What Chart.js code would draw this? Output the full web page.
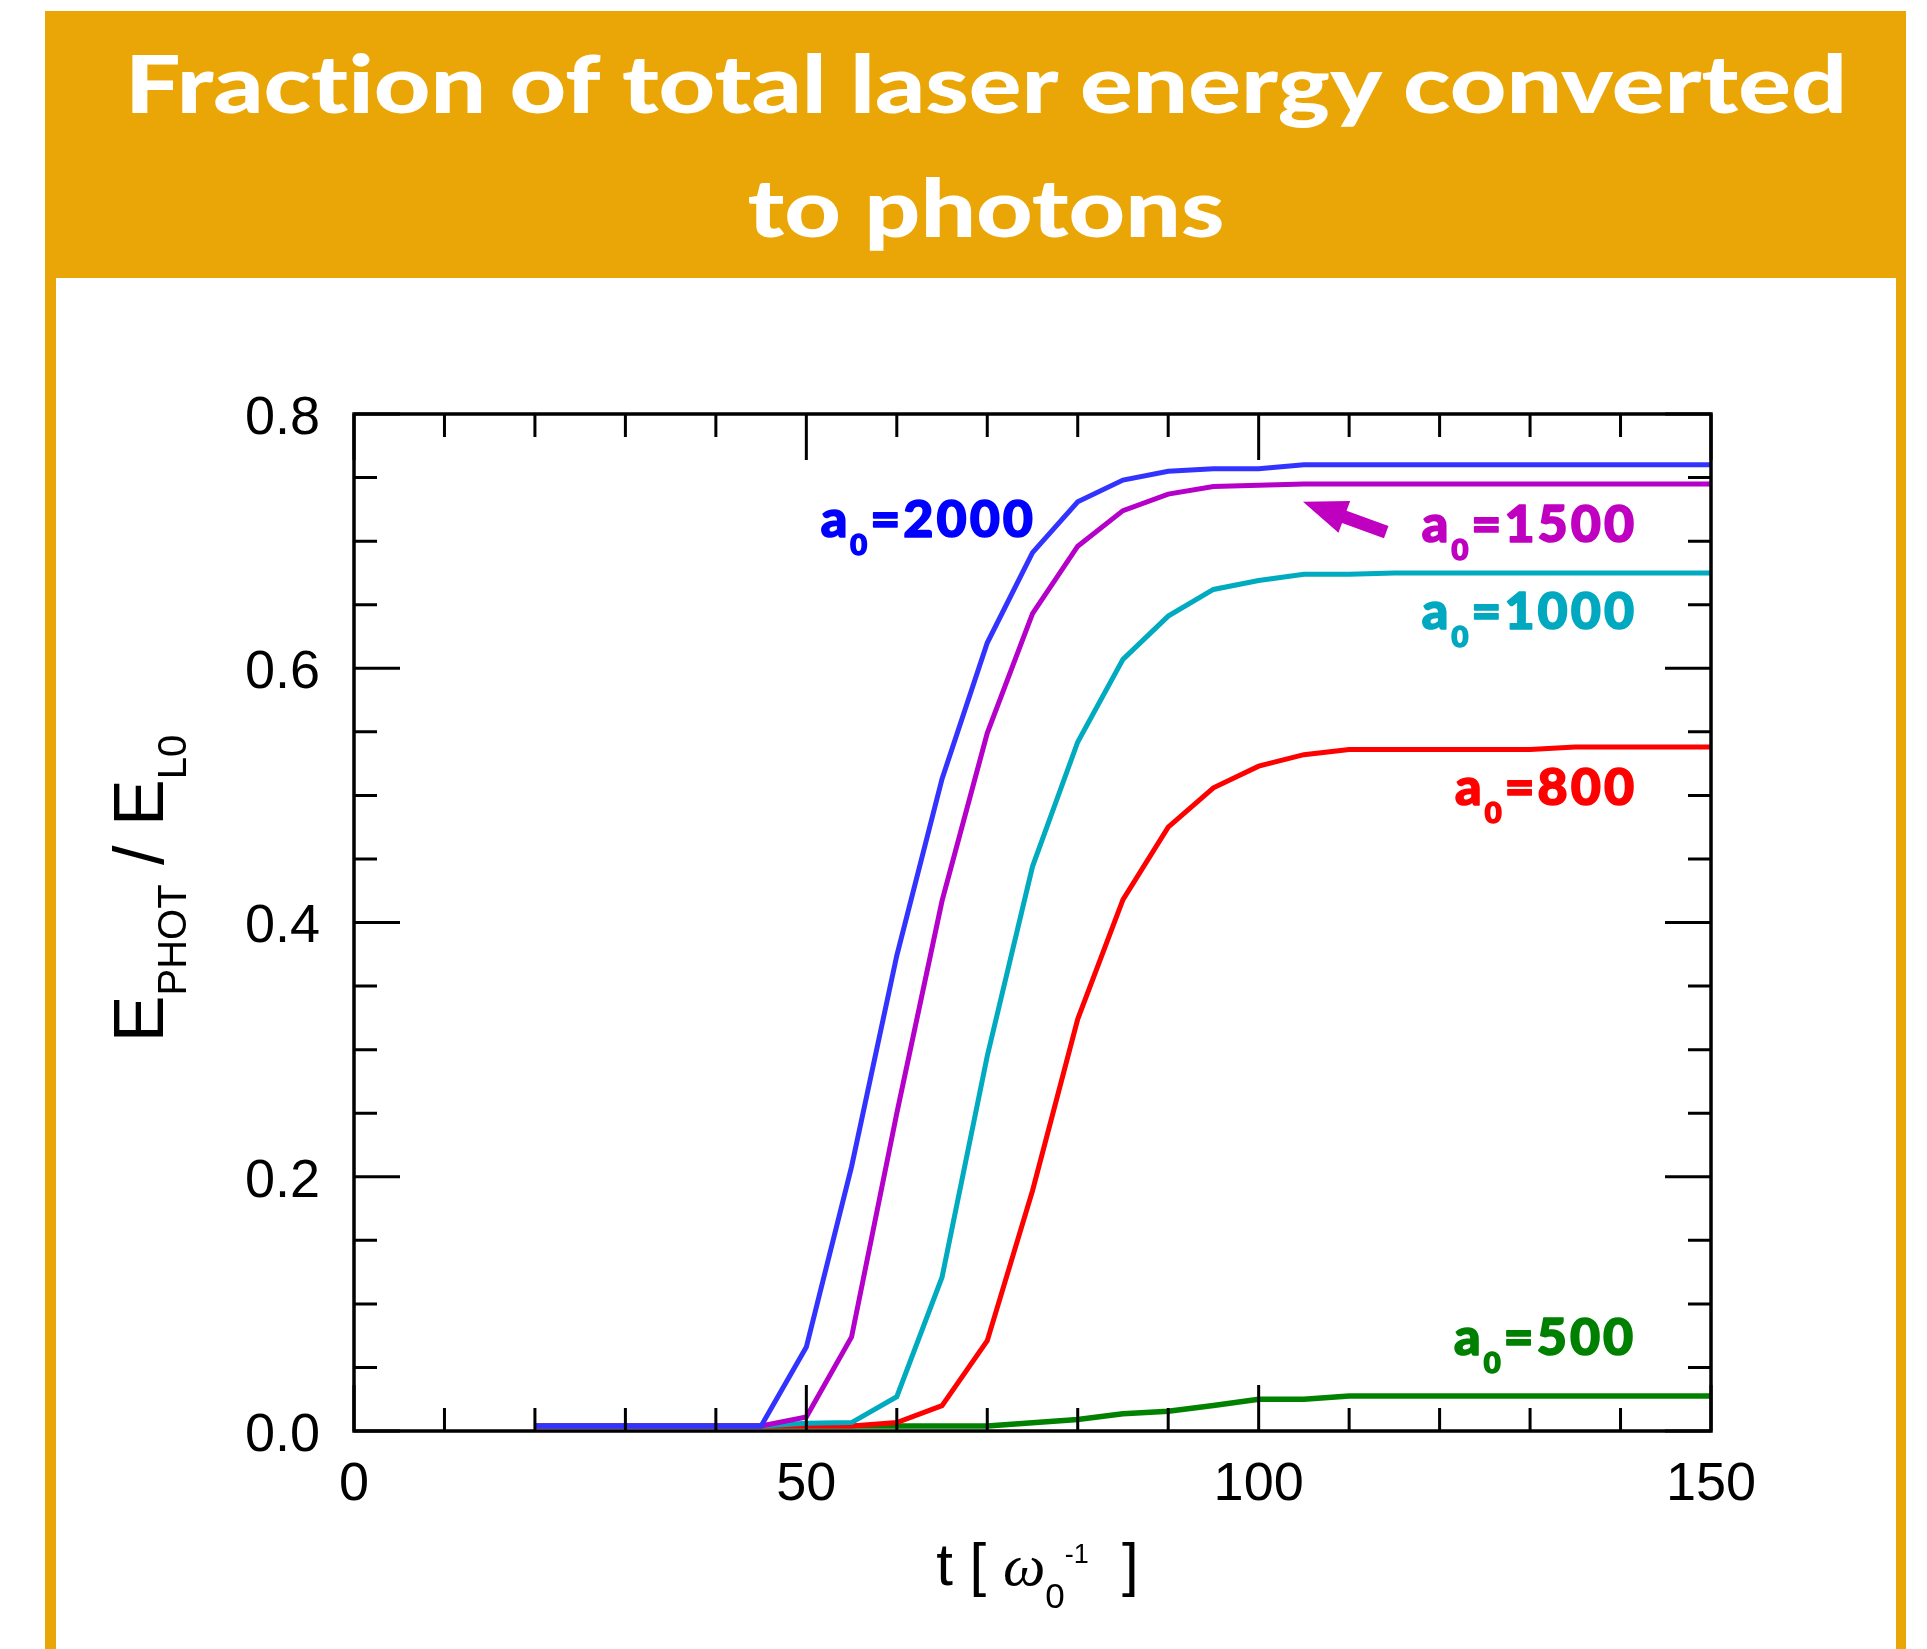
<!DOCTYPE html>
<html>
<head>
<meta charset="utf-8">
<script src="https://cdn.jsdelivr.net/npm/chart.js@4.4.0/dist/chart.umd.min.js"></script>
<style>
  html, body { margin: 0; padding: 0; background: #fff; width: 1927px; height: 1649px; overflow: hidden; }
  #frame { position: absolute; left: 45px; top: 11px; width: 1861px; height: 1700px; background: #EAA607; }
  #panel { position: absolute; left: 56px; top: 278px; width: 1840px; height: 1500px; background: #fff; }
  #title {
    position: absolute; left: 45px; top: 20px; width: 1882px;
    text-align: center; color: #fff;
    font-family: "Lato", sans-serif; font-weight: 900; font-size: 80px; line-height: 124px;
    font-variant-ligatures: none;
    transform-origin: 50% 0;
  }
  #chart { position: absolute; left: 0; top: 0; }
</style>
</head>
<body>
<div id="frame"></div>
<div id="panel"></div>
<div id="title"><span id="line1">Fraction of total laser energy converted</span><br><span>to photons</span></div>
<canvas id="chart" width="1927" height="1649"></canvas>
<script>
(function () {
  "use strict";

  // time in units of 1/omega_0
  const times = [20, 25, 30, 35, 40, 45, 50, 55, 60, 65, 70, 75, 80, 85, 90,
    95, 100, 105, 110, 115, 120, 125, 130, 135, 140, 145, 150];

  // E_PHOT / E_L0 for each a0
  const a2000 = [0.004, 0.004, 0.004, 0.004, 0.004, 0.004, 0.066, 0.208, 0.374,
    0.513, 0.620, 0.691, 0.731, 0.748, 0.755, 0.757, 0.757, 0.760, 0.760, 0.760,
    0.760, 0.760, 0.760, 0.760, 0.760, 0.760, 0.760];
  const a1500 = [0.004, 0.004, 0.004, 0.004, 0.004, 0.004, 0.011, 0.074, 0.250,
    0.417, 0.549, 0.643, 0.696, 0.724, 0.737, 0.743, 0.744, 0.745, 0.745, 0.745,
    0.745, 0.745, 0.745, 0.745, 0.745, 0.745, 0.745];
  const a1000 = [0.004, 0.004, 0.004, 0.004, 0.004, 0.004, 0.006, 0.0066, 0.027,
    0.121, 0.295, 0.444, 0.542, 0.607, 0.641, 0.662, 0.669, 0.674, 0.674, 0.675,
    0.675, 0.675, 0.675, 0.675, 0.675, 0.675, 0.675];
  const a800 = [0.004, 0.004, 0.004, 0.004, 0.004, 0.004, 0.004, 0.004, 0.0066,
    0.020, 0.071, 0.189, 0.324, 0.418, 0.475, 0.506, 0.523, 0.532, 0.536, 0.536,
    0.536, 0.536, 0.536, 0.538, 0.538, 0.538, 0.538];
  const a500 = [0.004, 0.004, 0.004, 0.004, 0.004, 0.004, 0.004, 0.004, 0.004,
    0.004, 0.004, 0.0065, 0.009, 0.0135, 0.0155, 0.020, 0.025, 0.025, 0.0275,
    0.0275, 0.0275, 0.0275, 0.0275, 0.0275, 0.0275, 0.0275, 0.0275];

  const xRange = [0, 150];
  const yRange = [0, 0.8];
  const xMajorStep = 50;
  const xMinorStep = 10;
  const yMajorStep = 0.2;
  const yMinorStep = 0.05;

  // curve labels: anchored at right end / baseline, in data units
  const curveLabels = [
    { text: "2000", color: "#0000FF", t: 75.05, y: 0.703 },
    { text: "1500", color: "#C000C0", t: 141.5, y: 0.6995 },
    { text: "1000", color: "#00A8C0", t: 141.5, y: 0.631 },
    { text: "800", color: "#FF0000", t: 141.5, y: 0.4925 },
    { text: "500", color: "#008000", t: 141.4, y: 0.0598 },
  ];
  const arrow1500 = { from: [114.1, 0.707], to: [104.9, 0.731], color: "#C000C0" };

  const TICK_FONT = "Liberation Sans";
  const LABEL_FONT = "Lato";

  // stretch the header so its first line spans the same width as the original
  const title = document.getElementById("title");
  const line1 = document.getElementById("line1");
  function fitTitle() {
    title.style.transform = "none";
    const w = line1.getBoundingClientRect().width;
    if (w > 0) {
      title.style.transform = "scaleX(" + (1722 / w) + ")";
    }
  }
  fitTitle();
  if (document.fonts && document.fonts.ready) {
    document.fonts.ready.then(fitTitle);
  }

  function points(values) {
    return times.map(function (t, i) {
      return { x: t, y: values[i] };
    });
  }

  function series(values, color, width) {
    return {
      data: points(values),
      borderColor: color,
      borderWidth: width,
      pointRadius: 0,
      tension: 0,
      fill: false,
    };
  }

  // draws runs of text with their own font / baseline shift, char by char
  function drawRich(ctx, parts, x, y, align, spacing, stroke) {
    const sp = spacing || 0;
    let total = 0;
    parts.forEach(function (p) {
      ctx.font = p.font;
      p.chars = p.text.split("").map(function (c) {
        return { c: c, w: ctx.measureText(c).width + sp };
      });
      p.w = p.chars.reduce(function (s, ch) { return s + ch.w; }, 0);
      total += p.w;
    });
    total -= sp;
    let cx = align === "right" ? x - total : align === "center" ? x - total / 2 : x;
    parts.forEach(function (p) {
      ctx.font = p.font;
      p.chars.forEach(function (ch) {
        ctx.fillText(ch.c, cx, y + (p.dy || 0));
        if (stroke) {
          ctx.lineWidth = stroke;
          ctx.lineJoin = "round";
          ctx.strokeText(ch.c, cx, y + (p.dy || 0));
        }
        cx += ch.w;
      });
    });
  }

  function drawArrow(ctx, x1, y1, x2, y2, color) {
    const ang = Math.atan2(y2 - y1, x2 - x1);
    const len = Math.hypot(x2 - x1, y2 - y1);
    const head = 44, hw = 17, sw = 6.5;
    ctx.save();
    ctx.translate(x1, y1);
    ctx.rotate(ang);
    ctx.beginPath();
    ctx.moveTo(0, -sw);
    ctx.lineTo(len - head, -sw);
    ctx.lineTo(len - head, -hw);
    ctx.lineTo(len, 0);
    ctx.lineTo(len - head, hw);
    ctx.lineTo(len - head, sw);
    ctx.lineTo(0, sw);
    ctx.closePath();
    ctx.fillStyle = color;
    ctx.fill();
    ctx.restore();
  }

  const framePlugin = {
    id: "frameTicks",
    afterDraw(chart) {
      const ctx = chart.ctx;
      const a = chart.chartArea;
      const xs = chart.scales.x;
      const ys = chart.scales.y;

      ctx.save();
      ctx.strokeStyle = "#000";
      ctx.lineWidth = 3;
      ctx.beginPath();
      for (let v = xRange[0]; v <= xRange[1] + 1e-9; v += xMinorStep) {
        const px = xs.getPixelForValue(v);
        const len = Math.abs(v % xMajorStep) < 1e-6 ? 46 : 23;
        ctx.moveTo(px, a.bottom);
        ctx.lineTo(px, a.bottom - len);
        ctx.moveTo(px, a.top);
        ctx.lineTo(px, a.top + len);
      }
      const nY = Math.round((yRange[1] - yRange[0]) / yMinorStep);
      const perMajor = Math.round(yMajorStep / yMinorStep);
      for (let i = 0; i <= nY; i++) {
        const py = ys.getPixelForValue(yRange[0] + i * yMinorStep);
        const len = i % perMajor === 0 ? 46 : 23;
        ctx.moveTo(a.left, py);
        ctx.lineTo(a.left + len, py);
        ctx.moveTo(a.right, py);
        ctx.lineTo(a.right - len, py);
      }
      ctx.stroke();
      ctx.lineWidth = 3.5;
      ctx.strokeRect(a.left, a.top, a.right - a.left, a.bottom - a.top);

      // curve labels
      ctx.textBaseline = "alphabetic";
      ctx.textAlign = "left";
      curveLabels.forEach(function (l) {
        ctx.fillStyle = l.color;
        ctx.strokeStyle = l.color;
        drawRich(ctx, [
          { text: "a", font: "900 52px " + LABEL_FONT },
          { text: "0", font: "900 29px " + LABEL_FONT, dy: 18 },
          { text: "=" + l.text, font: "900 52px " + LABEL_FONT },
        ], xs.getPixelForValue(l.t), ys.getPixelForValue(l.y), "right", 3, 1.6);
      });
      drawArrow(ctx,
        xs.getPixelForValue(arrow1500.from[0]), ys.getPixelForValue(arrow1500.from[1]),
        xs.getPixelForValue(arrow1500.to[0]), ys.getPixelForValue(arrow1500.to[1]),
        arrow1500.color);

      // axis titles
      ctx.fillStyle = "#000";
      drawRich(ctx, [
        { text: "t [ ", font: "60px " + TICK_FONT },
        { text: "\u03C9", font: "italic 60px Liberation Serif" },
        { text: "0", font: "35px " + TICK_FONT, dy: 23 },
        { text: "-1", font: "27px " + TICK_FONT, dy: -22 },
        { text: "  ", font: "30px " + TICK_FONT },
        { text: " ]", font: "60px " + TICK_FONT },
      ], (a.left + a.right) / 2 + 5, a.bottom + 154, "center");

      ctx.translate(a.left - 191, (a.top + a.bottom) / 2 - 34);
      ctx.rotate(-Math.PI / 2);
      drawRich(ctx, [
        { text: "E", font: "70px " + TICK_FONT },
        { text: "PHOT", font: "40px " + TICK_FONT, dy: 23 },
        { text: " / ", font: "70px " + TICK_FONT },
        { text: "E", font: "70px " + TICK_FONT },
        { text: "L0", font: "40px " + TICK_FONT, dy: 23 },
      ], 0, 0, "center");
      ctx.restore();
    },
  };

  const tickFont = { family: TICK_FONT, size: 54 };

  new Chart(document.getElementById("chart"), {
    type: "line",
    data: {
      datasets: [
        series(a2000, "#3333FF", 5),
        series(a1500, "#B400C8", 5),
        series(a1000, "#00AABF", 5),
        series(a800, "#FF0000", 5),
        series(a500, "#008200", 5.5),
      ],
    },
    options: {
      responsive: false,
      animation: false,
      events: [],
      layout: { padding: { left: 204, right: 216, top: 414, bottom: 118 } },
      plugins: {
        legend: { display: false },
        title: { display: false },
        tooltip: { enabled: false },
      },
      scales: {
        x: {
          type: "linear",
          min: xRange[0],
          max: xRange[1],
          afterFit: function (scale) { scale.height = 100; },
          grid: { display: false, drawTicks: false },
          border: { display: false },
          ticks: {
            stepSize: xMajorStep,
            padding: 22,
            color: "#000",
            font: tickFont,
            maxRotation: 0,
            autoSkip: false,
          },
        },
        y: {
          type: "linear",
          min: yRange[0],
          max: yRange[1],
          afterFit: function (scale) { scale.width = 150; },
          grid: { display: false, drawTicks: false },
          border: { display: false },
          ticks: {
            stepSize: yMajorStep,
            padding: 34,
            labelOffset: 5,
            color: "#000",
            font: tickFont,
            callback: function (v) { return Number(v).toFixed(1); },
          },
        },
      },
    },
    plugins: [framePlugin],
  });
})();
</script>
</body>
</html>
